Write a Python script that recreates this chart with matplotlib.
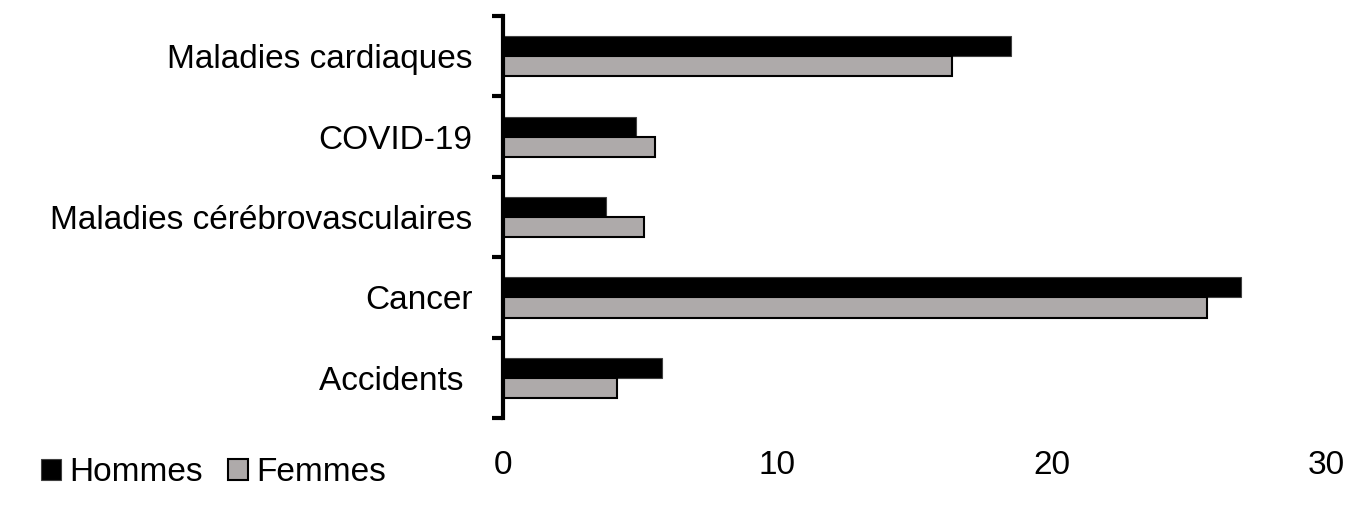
import numpy as np
import matplotlib.pyplot as plt

# Valeurs (%)
categories = ["Maladies cardiaques", "COVID-19", "Maladies cérébrovasculaires", "Cancer", "Accidents "]
hommes = [18.5, 4.85, 3.75, 26.9, 5.8]
femmes = [16.35, 5.55, 5.15, 25.65, 4.15]
xticks = [0, 10, 20, 30]

plt.rcParams['font.family'] = ['Liberation Sans', 'DejaVu Sans']

fig = plt.figure(figsize=(13.69, 5.27), dpi=100)
ax = fig.add_axes([0.3674, 0.2068, 0.6012, 0.7628])

y = np.arange(len(categories))
h = 0.25
ax.barh(y - h / 2, hommes, height=h, color="black", edgecolor="#404040", linewidth=0.8, label="Hommes")
ax.barh(y + h / 2, femmes, height=h, color="#AEAAAA", edgecolor="black", linewidth=1.5, label="Femmes")

ax.set_xlim(0, 30)
ax.set_ylim(len(categories) - 0.5, -0.5)

ax.set_xticks(xticks)
ax.set_xticklabels([str(t) for t in xticks], fontsize=24)
ax.tick_params(axis="x", length=0, pad=23)

# étiquettes au centre, traits aux limites des catégories
ax.set_yticks(np.arange(-0.5, len(categories), 1.0))
ax.set_yticklabels([])
ax.tick_params(axis="y", which="major", direction="out", length=8, width=3)
ax.set_yticks(y, minor=True)
ax.set_yticklabels(categories, minor=True, fontsize=24)
ax.tick_params(axis="y", which="minor", length=0, pad=22)

for s in ["top", "right", "bottom"]:
    ax.spines[s].set_visible(False)
ax.spines["left"].set_linewidth(3)

fig.legend(loc="center left", bbox_to_anchor=(0.018, 0.103), ncol=2, frameon=False,
           fontsize=24, handlelength=0.6, handleheight=0.6, handletextpad=0.25,
           columnspacing=0.75, borderpad=0)

fig.savefig("out.png", dpi=100)
